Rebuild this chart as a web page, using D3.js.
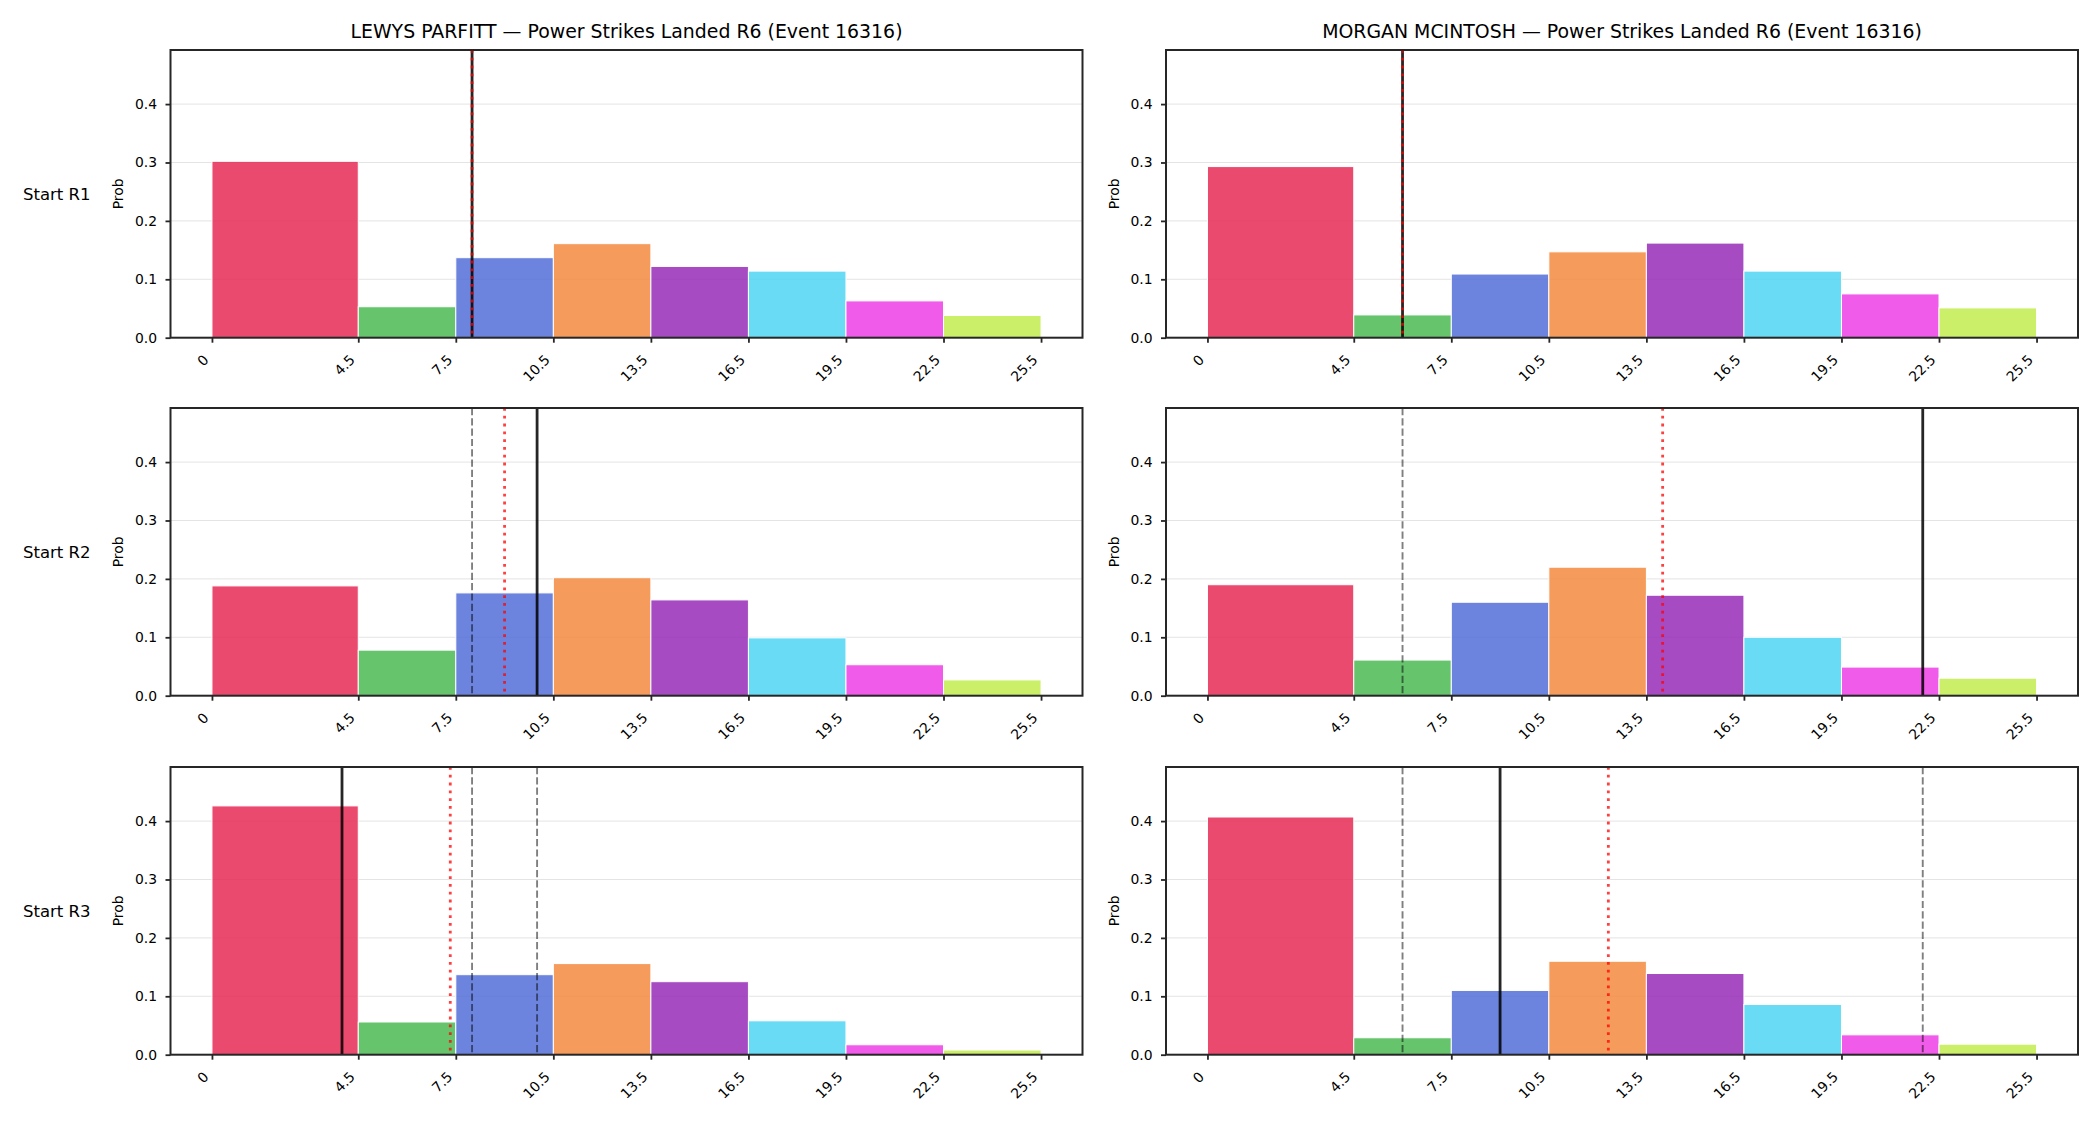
<!DOCTYPE html>
<html>
<head>
<meta charset="utf-8">
<script src="https://cdn.jsdelivr.net/npm/d3@7"></script>
<style>
  body { margin: 0; background: #fff; }
  svg { display: block; font-family: "DejaVu Sans", sans-serif; }
</style>
</head>
<body>
<script>
// bins (strike count buckets) and tick labels
const binEdges = [0, 4.5, 7.5, 10.5, 13.5, 16.5, 19.5, 22.5, 25.5];
const tickVals = [0, 4.5, 7.5, 10.5, 13.5, 16.5, 19.5, 22.5, 25.5];
const tickLabels = ["0", "4.5", "7.5", "10.5", "13.5", "16.5", "19.5", "22.5", "25.5"];
const yTicks = [0, 0.1, 0.2, 0.3, 0.4];
const binColors = ["#e82a56", "#4bba54", "#526ed8", "#f38a3e", "#962bb6", "#4fd5f3", "#ed3fe5", "#c2ec4d"];

const fighters = ["LEWYS PARFITT", "MORGAN MCINTOSH"];
const rowLabels = ["Start R1", "Start R2", "Start R3"];

// probabilities per bin, one row per starting round
const parfittProbs = [
  [0.302, 0.053, 0.137, 0.161, 0.122, 0.114, 0.063, 0.038],
  [0.188, 0.078, 0.176, 0.202, 0.164, 0.099, 0.053, 0.027],
  [0.426, 0.056, 0.137, 0.156, 0.125, 0.058, 0.017, 0.008]
];
const mcintoshProbs = [
  [0.293, 0.039, 0.109, 0.147, 0.162, 0.114, 0.075, 0.051],
  [0.190, 0.061, 0.160, 0.220, 0.172, 0.100, 0.049, 0.030],
  [0.407, 0.029, 0.110, 0.160, 0.139, 0.086, 0.034, 0.018]
];
// round actuals (solid), running average (red dotted), earlier rounds (grey dashed)
const parfittActual = [8, 10, 4];
const parfittMean = [8, 9, 7.33];
const mcintoshActual = [6, 22, 9];
const mcintoshMean = [6, 14, 12.33];

const W = 2100, H = 1125;
const colLeft = [170.5, 1166];
const rowTop = [50, 408, 767];
const axW = 912, axH = 287.7;
const yMax = 0.4926;

const svg = d3.select("body").append("svg")
  .attr("width", W).attr("height", H);

const panels = [
  {name: fighters[0], probs: parfittProbs, actual: parfittActual, mean: parfittMean},
  {name: fighters[1], probs: mcintoshProbs, actual: mcintoshActual, mean: mcintoshMean}
];

panels.forEach(function(p, c){
  rowLabels.forEach(function(lab, r){
    const left = colLeft[c], top = rowTop[r];
    const x = d3.scaleLinear().domain([-1.275, 26.775]).range([left, left + axW]);
    const y = d3.scaleLinear().domain([0, yMax]).range([top + axH, top]);
    const g = svg.append("g");

    // grid
    g.selectAll("line.grid").data(yTicks.slice(1)).enter().append("line")
      .attr("x1", left).attr("x2", left + axW)
      .attr("y1", d => y(d)).attr("y2", d => y(d))
      .attr("stroke", "#e4e4e4").attr("stroke-width", 1);

    // bars
    const bars = p.probs[r].map((v, i) => ({x0: binEdges[i], x1: binEdges[i + 1], v: v, col: binColors[i]}));
    g.selectAll("rect.bar").data(bars).enter().append("rect")
      .attr("x", d => x(d.x0)).attr("width", d => x(d.x1) - x(d.x0))
      .attr("y", d => y(d.v)).attr("height", d => y(0) - y(d.v))
      .attr("fill", d => d.col).attr("fill-opacity", 0.85)
      .attr("stroke", "#fff").attr("stroke-width", 1);

    // previous rounds
    const prev = p.actual.slice(0, r);
    g.selectAll("line.prev").data(prev).enter().append("line")
      .attr("x1", d => x(d)).attr("x2", d => x(d))
      .attr("y1", top).attr("y2", top + axH)
      .attr("stroke", "#000").attr("stroke-opacity", 0.5)
      .attr("stroke-width", 1.9).attr("stroke-dasharray", "7.2,3.1");

    g.append("line")
      .attr("x1", x(p.actual[r])).attr("x2", x(p.actual[r]))
      .attr("y1", top).attr("y2", top + axH)
      .attr("stroke", "#000").attr("stroke-opacity", 0.85).attr("stroke-width", 2.8);

    g.append("line")
      .attr("x1", x(p.mean[r])).attr("x2", x(p.mean[r]))
      .attr("y1", top).attr("y2", top + axH)
      .attr("stroke", "red").attr("stroke-opacity", 0.75)
      .attr("stroke-width", 2.8).attr("stroke-dasharray", "2.8,5");

    // axes
    const yAxis = d3.axisLeft(y).tickValues(yTicks).tickFormat(d3.format(".1f"))
      .tickSize(5).tickPadding(8.5).tickSizeOuter(0);
    const ya = g.append("g").attr("transform", "translate(" + left + ",0)").call(yAxis);
    ya.select(".domain").remove();
    ya.selectAll("line").attr("stroke", "#262626").attr("stroke-width", 1.8);
    ya.selectAll("text").attr("font-size", "13.9px").attr("fill", "#000")
      .attr("font-family", "DejaVu Sans");

    const xAxis = d3.axisBottom(x).tickValues(tickVals).tickFormat((d, i) => tickLabels[i])
      .tickSize(5).tickSizeOuter(0);
    const xa = g.append("g").attr("transform", "translate(0," + (top + axH) + ")").call(xAxis);
    xa.select(".domain").remove();
    xa.selectAll("line").attr("stroke", "#262626").attr("stroke-width", 1.8);
    xa.selectAll("text")
      .attr("font-size", "13.9px").attr("fill", "#000").attr("font-family", "DejaVu Sans")
      .attr("text-anchor", "end").attr("y", 0).attr("dy", 0)
      .attr("transform", "translate(-3,23) rotate(-45)");

    // spines
    g.append("rect").attr("x", left).attr("y", top).attr("width", axW).attr("height", axH)
      .attr("fill", "none").attr("stroke", "#262626").attr("stroke-width", 2);

    // y label
    g.append("text")
      .attr("transform", "translate(" + (left - 47.5) + "," + (top + axH / 2) + ") rotate(-90)")
      .attr("text-anchor", "middle").attr("font-size", "13.9px").text("Prob");

    if (r === 0) {
      g.append("text").attr("x", left + axW / 2).attr("y", 38.3)
        .attr("text-anchor", "middle").attr("font-size", "18.9px")
        .text(p.name + " \u2014 Power Strikes Landed R6 (Event 16316)");
    }
    if (c === 0) {
      g.append("text").attr("x", 23).attr("y", top + axH / 2 + 5.7)
        .attr("font-size", "16.5px").text(lab);
    }
  });
});
</script>
</body>
</html>
